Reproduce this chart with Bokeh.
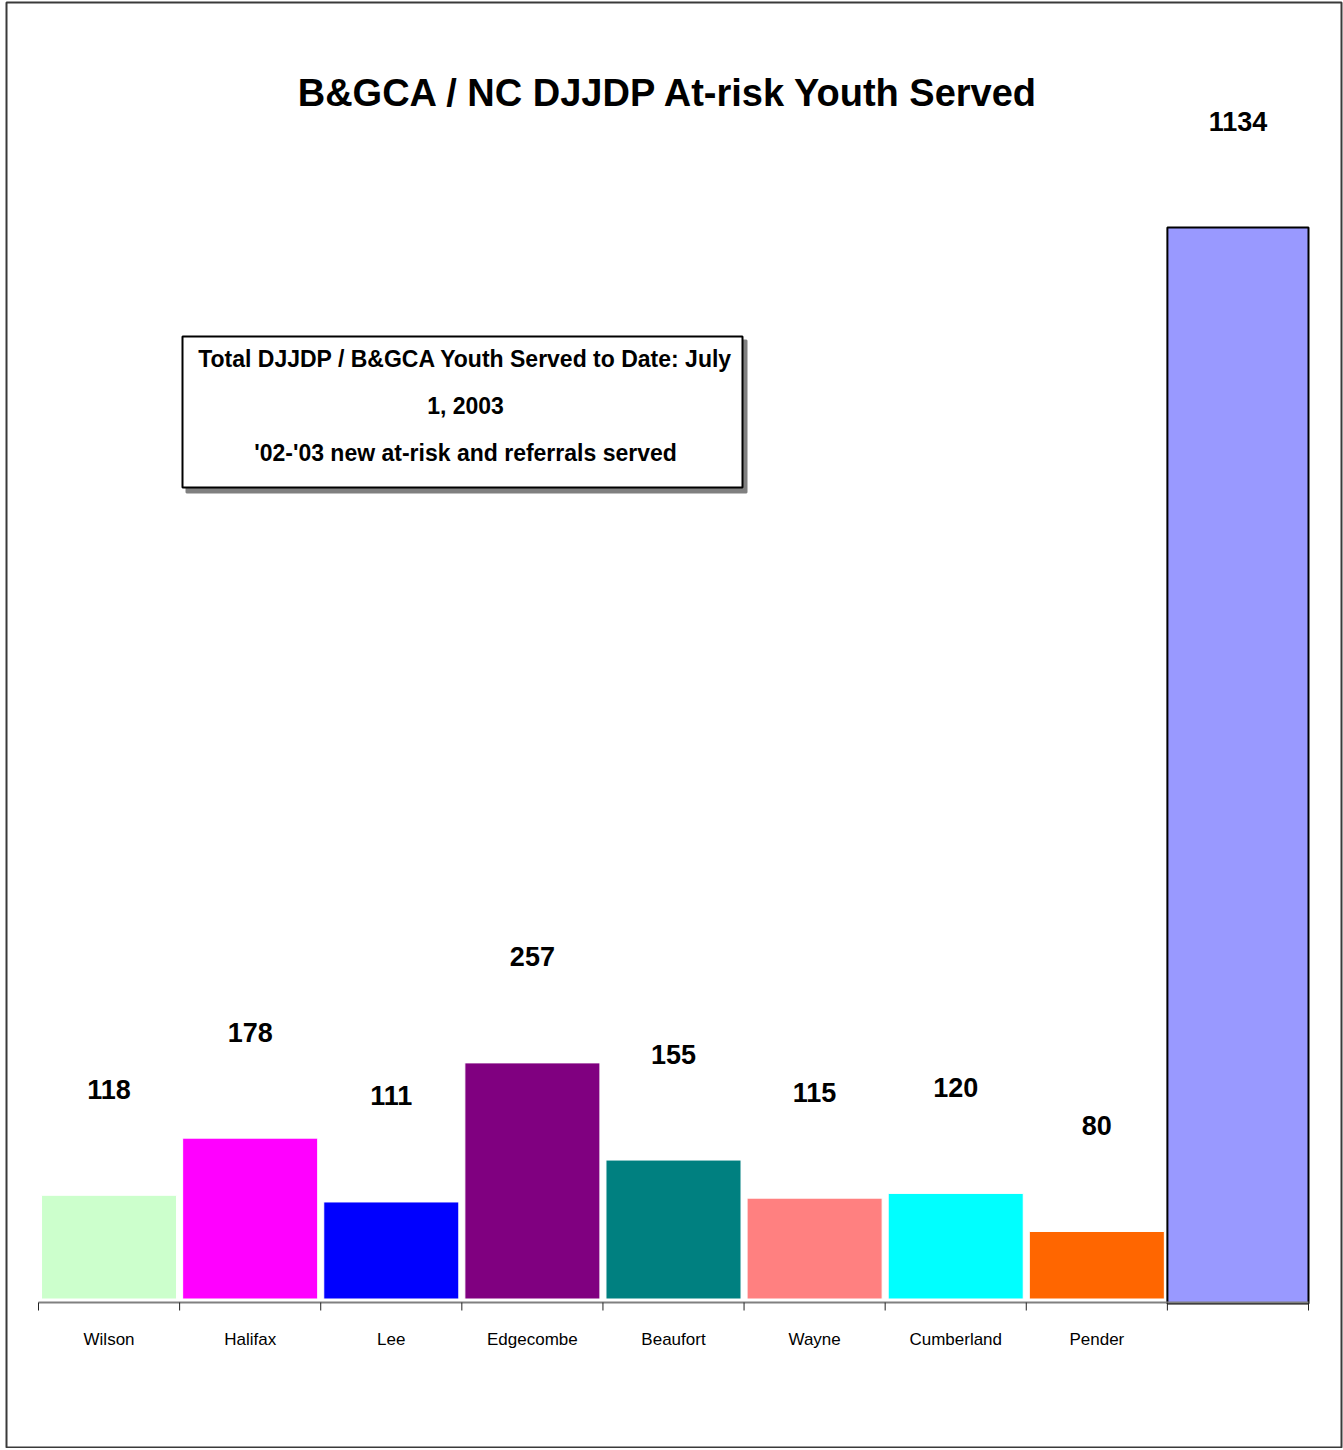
from bokeh.plotting import figure
from bokeh.models import Range1d, Label, BoxAnnotation, ColumnDataSource
from bokeh.core.properties import value
from bokeh.embed import file_html
from bokeh.resources import INLINE

# ---------------- data ----------------
categories = ["Wilson", "Halifax", "Lee", "Edgecombe", "Beaufort", "Wayne", "Cumberland", "Pender"]
county_values = [118, 178, 111, 257, 155, 115, 120, 80]
county_colors = ["#CCFFCC", "#FF00FF", "#0000FF", "#800080", "#008080", "#FF8080", "#00FFFF", "#FF6600"]
total_category = ""
total_value = 1134
total_color = "#9999FF"

title_text = "B&GCA / NC DJJDP At-risk Youth Served"
legend_lines = ["Total DJJDP / B&GCA Youth Served to Date: July",
                "1, 2003",
                "'02-'03 new at-risk and referrals served"]

# ---------------- layout (page pixels -> data space) ----------------
W, H = 1343, 1448
FRAME_LEFT, FRAME_RIGHT_MARGIN, FRAME_TOP = 6, 2, 2
FRAME_W = W - FRAME_LEFT - FRAME_RIGHT_MARGIN
FRAME_H = H - FRAME_TOP
N = len(categories) + 1
X0_PX, XN_PX = 38, 1308      # page x of first / last category edge
KX = (XN_PX - X0_PX) / N     # px per category
KY = 0.9526                  # px per unit
Y0_PX = 1307.2               # page y of value 0

x_start = -(X0_PX - FRAME_LEFT) / KX
x_end = x_start + FRAME_W / KX
y_end = (Y0_PX - FRAME_TOP) / KY
y_start = y_end - FRAME_H / KY


def px_x(px):
    return (px - X0_PX) / KX


def px_y(py):
    return (Y0_PX - py) / KY


FONT = "Liberation Sans"

p = figure(width=W, height=H, x_range=Range1d(x_start, x_end), y_range=Range1d(y_start, y_end),
           output_backend="svg", toolbar_location=None, tools="",
           x_axis_location=None, y_axis_location=None,
           min_border_left=FRAME_LEFT, min_border_right=FRAME_RIGHT_MARGIN,
           min_border_top=FRAME_TOP, min_border_bottom=0)
p.grid.visible = False
p.outline_line_color = "#3a3a3a"
p.outline_line_width = 2
p.background_fill_color = "white"
p.border_fill_color = "white"

centers = [i + 0.5 for i in range(len(categories))]
src = ColumnDataSource(dict(x=centers, top=county_values, color=county_colors))

axis_v = px_y(1302)

# county bars
p.vbar(x="x", top="top", bottom=px_y(1298.5), width=0.957, fill_color="color",
       line_color="white", line_width=1, source=src)
# total bar
p.vbar(x=[len(categories) + 0.5], top=[total_value], bottom=px_y(1303), width=1.0,
       fill_color=total_color, line_color="black", line_width=2)

# category axis (drawn through the data scales)
edges = list(range(N + 1))
p.segment(x0=[0], x1=[N], y0=[axis_v], y1=[axis_v], line_color="#808080", line_width=2)
p.segment(x0=edges, x1=edges, y0=[axis_v] * len(edges), y1=[px_y(1310)] * len(edges),
          line_color="#222222", line_width=1)
all_cats = categories + [total_category]
p.text(x=[i + 0.5 for i in range(N)], y=[axis_v] * N, text=all_cats, y_offset=37,
       text_align="center", text_baseline="middle", text_font=value(FONT),
       text_font_size="17px", text_color="black")

# value labels
all_vals = county_values + [total_value]
p.text(x=[i + 0.5 for i in range(N)], y=all_vals, text=[str(v) for v in all_vals], y_offset=-106,
       text_align="center", text_baseline="middle", text_font=value(FONT),
       text_font_style="bold", text_font_size="27px", text_color="black")

# title
p.add_layout(Label(x=px_x(668.5), y=px_y(92), text=title_text, text_align="center",
                   text_baseline="middle", text_font=FONT, text_font_style="bold",
                   text_font_size="38px", text_color="black"))

# legend-like box with shadow
p.add_layout(BoxAnnotation(left=px_x(186), right=px_x(746), top=px_y(340), bottom=px_y(492),
                           fill_color="#808080", fill_alpha=1.0, line_color="#808080",
                           line_alpha=1.0, line_width=2, level="annotation"))
p.add_layout(BoxAnnotation(left=px_x(182), right=px_x(742), top=px_y(336), bottom=px_y(487),
                           fill_color="white", fill_alpha=1.0, line_color="black",
                           line_alpha=1.0, line_width=2, level="annotation"))
for line, mid in zip(legend_lines, [358, 405, 452]):
    p.add_layout(Label(x=px_x(465), y=px_y(mid), text=line, text_align="center",
                       text_baseline="middle", text_font=FONT, text_font_style="bold",
                       text_font_size="23px", text_color="black"))

open("out.html", "w").write(file_html(p, INLINE))
